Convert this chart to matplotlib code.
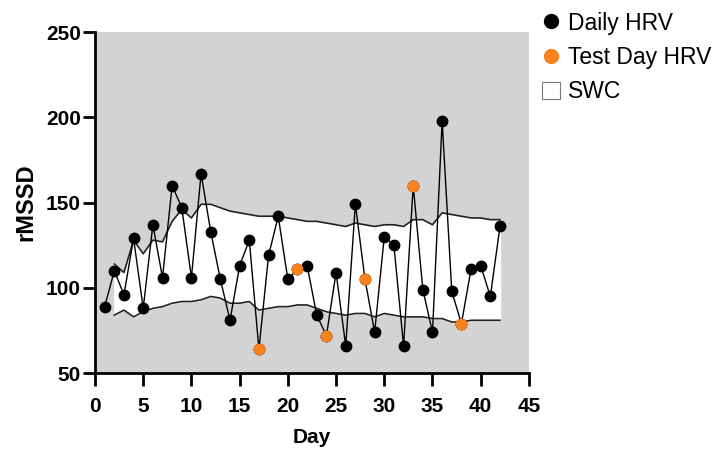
import numpy as np
import matplotlib
matplotlib.use('Agg')
import matplotlib.pyplot as plt
from matplotlib.lines import Line2D
from matplotlib.patches import Patch

# daily rMSSD values, days 1-42
days = np.arange(1, 43)
hrv = [89, 110, 96, 129, 88, 137, 106, 160, 147, 106,
       167, 133, 105, 81, 113, 128, 64, 119, 142, 105,
       111, 113, 84, 72, 109, 66, 149, 105, 74, 130,
       125, 66, 160, 99, 74, 198, 98, 79, 111, 113,
       95, 136]
test_days = [17, 21, 24, 28, 33, 38]

# smallest worthwhile change band, days 2-42
swc_days = np.arange(2, 43)
swc_upper = [114, 109, 128, 120, 128, 127, 139, 146, 141, 149,
             149, 147, 145, 144, 143, 142, 142, 142, 141, 140,
             139, 139, 138, 137, 136, 138, 137, 136, 137, 137,
             136, 140, 140, 137, 144, 143, 142, 141, 141, 140,
             140]
swc_lower = [84, 87, 83, 86, 88, 89, 91, 92, 92, 93,
             95, 94, 91, 91, 92, 87, 88, 89, 89, 90,
             90, 88, 86, 85, 84, 85, 85, 83, 85, 84,
             83, 83, 83, 82, 82, 80, 80, 81, 81, 81,
             81]

plt.rcParams['font.family'] = ['Liberation Sans', 'DejaVu Sans']

fig = plt.figure(figsize=(7.16, 4.54), dpi=100)
ax = fig.add_axes([0.1327, 0.178, 0.606, 0.7515])
ax.set_facecolor('#d3d3d3')

ax.fill_between(swc_days, swc_lower, swc_upper, color='white', zorder=1)
ax.plot(swc_days, swc_upper, color='#222222', lw=1.2, zorder=2)
ax.plot(swc_days, swc_lower, color='#222222', lw=1.2, zorder=2)

ax.plot(days, hrv, color='black', lw=1.0, zorder=3)
ax.plot(days, hrv, 'o', color='black', ms=7.5, zorder=4)
test_vals = [hrv[d - 1] for d in test_days]
ax.plot(test_days, test_vals, 'o', color='#f7821e', ms=7.5, zorder=5)

ax.set_xlim(0, 45)
ax.set_ylim(50, 250)
ax.set_xticks(np.arange(0, 46, 5))
ax.set_yticks(np.arange(50, 251, 50))
for s in ['top', 'right']:
    ax.spines[s].set_visible(False)
for s in ['left', 'bottom']:
    ax.spines[s].set_linewidth(2)
ax.tick_params(axis='y', width=2, length=9, pad=1, labelsize=15)
ax.tick_params(axis='x', width=2, length=9, pad=8, labelsize=15)
for lbl in ax.get_xticklabels() + ax.get_yticklabels():
    lbl.set_fontweight('bold')
ax.set_xlabel('Day', fontsize=15, fontweight='bold', labelpad=9)
ax.set_ylabel('rMSSD', fontsize=17, fontweight='bold', labelpad=6)

handles = [
    Line2D([], [], ls='', marker='o', color='black', ms=10),
    Line2D([], [], ls='', marker='o', color='#f7821e', ms=10),
    Patch(facecolor='white', edgecolor='#777777', lw=0.8),
]
fig.legend(handles, ['Daily HRV', 'Test Day HRV', 'SWC'],
           loc='upper left', bbox_to_anchor=(0.728, 1.02), frameon=False,
           fontsize=16.5, handlelength=0.8, handleheight=0.8,
           handletextpad=0.35, labelspacing=0.5)

fig.savefig('out.png', dpi=100)
